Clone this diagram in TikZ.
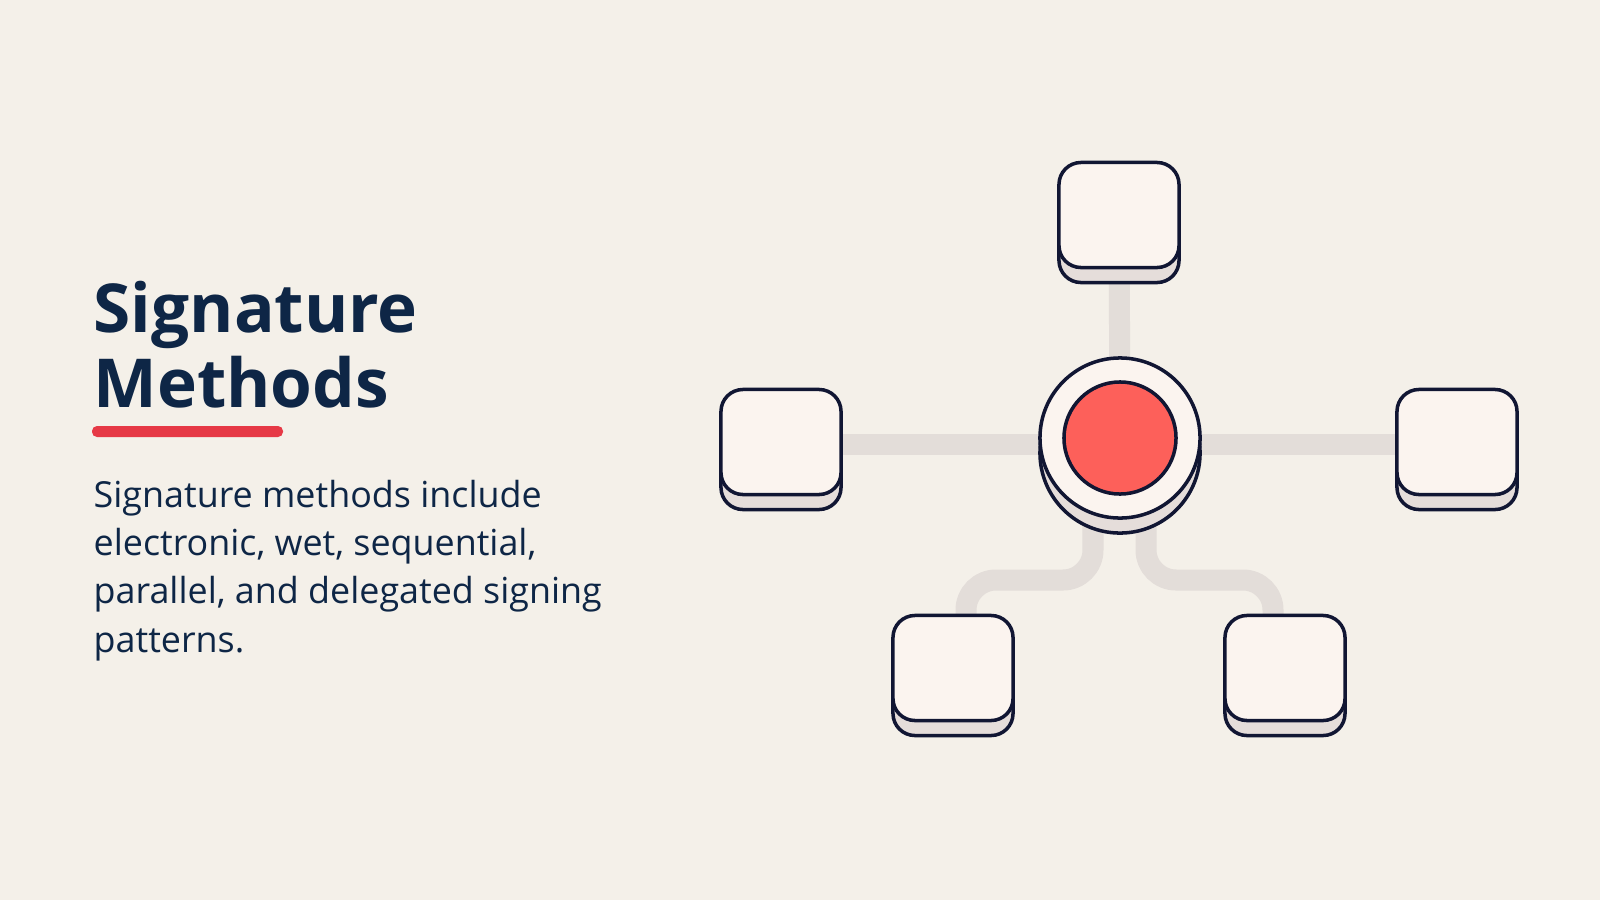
\documentclass[tikz,border=0pt]{standalone}
\usepackage{fontspec}
\setmainfont{Open Sans}
\usepackage{tikz}
\usetikzlibrary{shadows}

\definecolor{paper}{HTML}{F4F0E9}
\definecolor{ink}{HTML}{0E2646}
\definecolor{edge}{HTML}{111633}
\definecolor{accent}{HTML}{E63946}
\definecolor{tileface}{HTML}{FBF4EF}
\definecolor{tileshade}{HTML}{E5DDDA}
\definecolor{wire}{HTML}{E3DDD9}
\definecolor{core}{HTML}{FD605A}

\pgfdeclarelayer{under}
\pgfsetlayers{under,main}

\begin{document}
\begin{tikzpicture}[
    x=0.01cm, y=-0.01cm,
    tile/.style={draw=edge, line width=1pt, fill=tileface, rounded corners=0.22cm,
        minimum width=1.2cm, minimum height=1.05cm, inner sep=0pt,
        copy shadow={shadow xshift=0cm, shadow yshift=-0.15cm, fill=tileshade, draw=edge, line width=1pt}},
    hubring/.style={circle, draw=edge, line width=1pt, fill=tileface, minimum size=1.6cm, inner sep=0pt,
        copy shadow={shadow xshift=0cm, shadow yshift=-0.15cm, fill=tileshade, draw=edge, line width=1pt}},
    hubdot/.style={circle, draw=edge, line width=1pt, fill=core, minimum size=1.12cm, inner sep=0pt},
    link/.style={wire, line width=0.21cm, rounded corners=0.3cm},
    heading/.style={anchor=base west, inner sep=0pt, text=ink, font=\fontsize{19.2}{21.3}\selectfont\bfseries},
    blurb/.style={anchor=base west, inner sep=0pt, text=ink, align=left, font=\fontsize{10.2}{13.66}\selectfont}
]
\useasboundingbox (0,0) rectangle (1600,900);

% text column
\node[heading] (head1) at (93,332) {Signature};
\node[heading] (head2) at (93,407) {Methods};
\fill[accent, rounded corners=0.05cm] (92,426) rectangle (283,437);
% base of a multi-line node sits on its last line
\node[blurb] (desc) at (93,652) {Signature methods include\\electronic, wet, sequential,\\parallel, and delegated signing\\patterns.};

% hub and tiles
\node[hubring] (hub) at (1120,438) {};
\node[hubdot] (dot) at (hub.center) {};
\node[tile] (north) at (1119,215) {};
\node[tile] (west) at (781,442) {};
\node[tile] (east) at (1457,442) {};
\node[tile] (sw) at (953,668) {};
\node[tile] (se) at (1285,668) {};

\begin{pgfonlayer}{under}
\fill[paper] (0,0) rectangle (1600,900);
\draw[link] (hub.center) -- (north.center);
\draw[link] ([yshift=-0.06cm]hub.center) -- ([yshift=-0.06cm]hub.center -| west.center);
\draw[link] ([yshift=-0.06cm]hub.center) -- ([yshift=-0.06cm]hub.center -| east.center);
\draw[link] ([xshift=-0.27cm]hub.center) -- ++(0,142) -| ([xshift=0.13cm]sw.center);
\draw[link] ([xshift=0.26cm]hub.center) -- ++(0,142) -| ([xshift=-0.12cm]se.center);
\end{pgfonlayer}
\end{tikzpicture}
\end{document}
